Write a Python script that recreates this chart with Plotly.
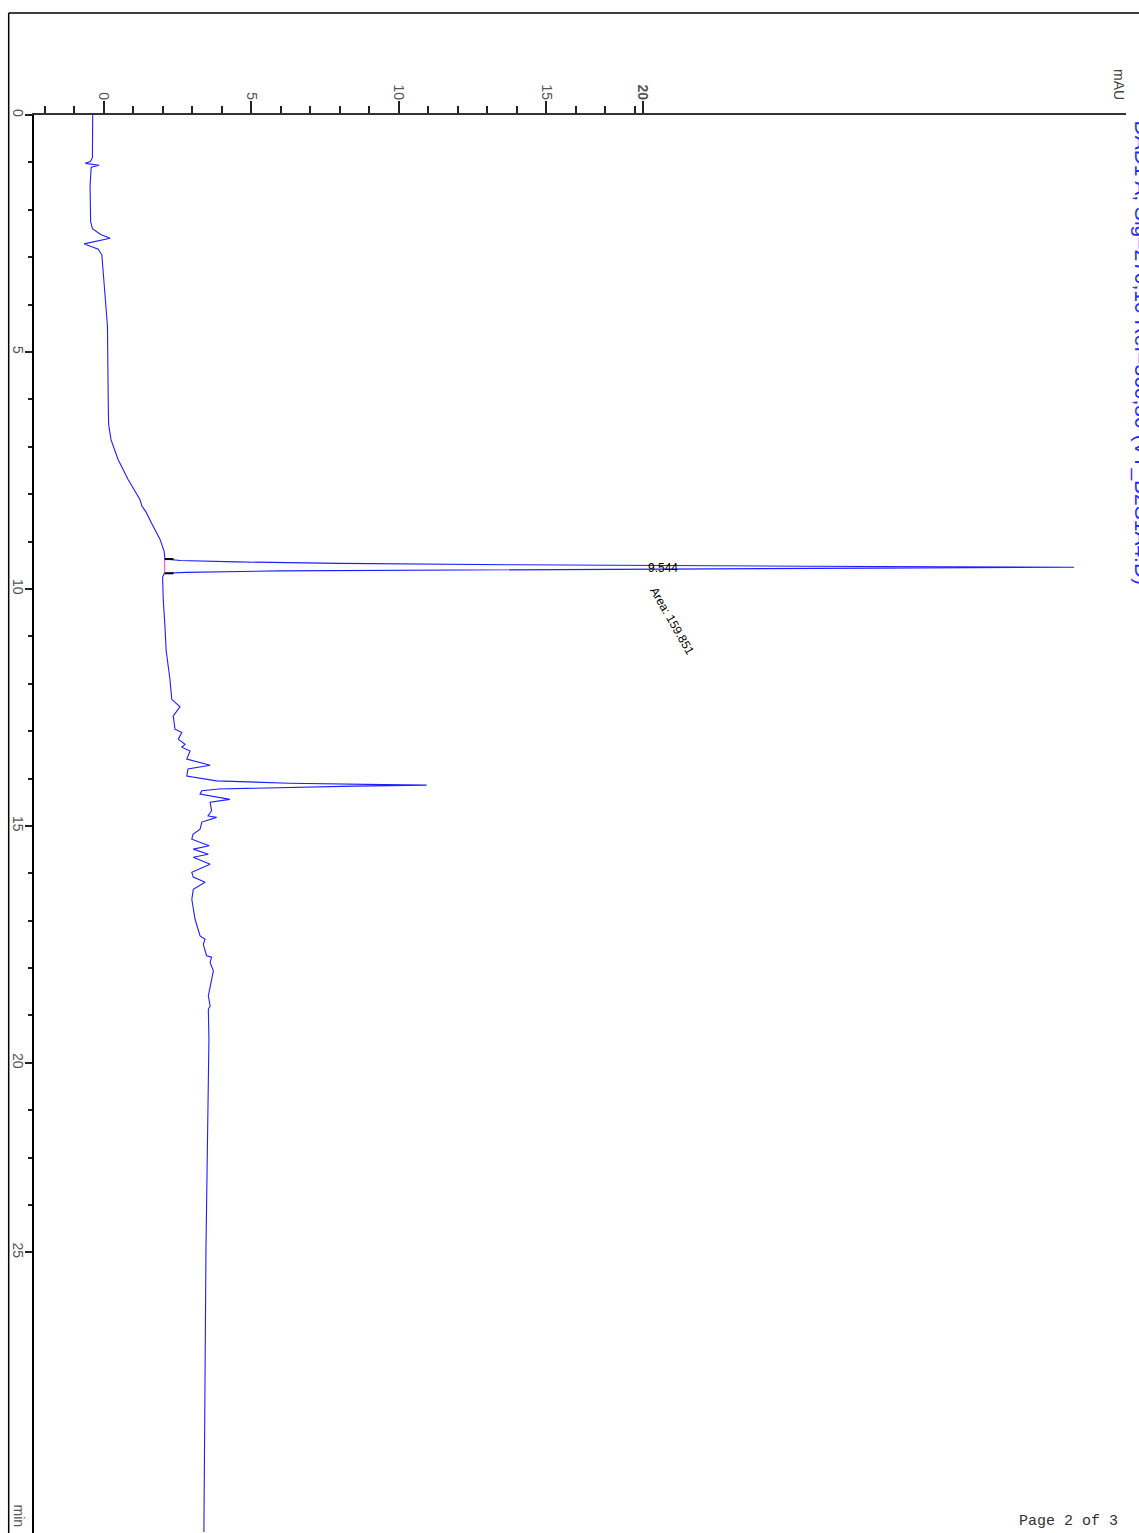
import plotly.graph_objects as go

# ---- data (retention time in min, absorbance in mAU) ----
time_min = [0.00, 0.90, 0.98, 1.02, 1.06, 1.10, 1.50, 2.00, 2.25, 2.40, 2.52, 2.60, 2.66, 2.72,
            2.78, 2.83, 2.95, 3.30, 4.45, 6.20, 6.53, 6.85, 7.27, 7.69, 7.94, 8.11, 8.25, 8.38,
            8.63, 8.95, 9.20, 9.37, 9.40, 9.43, 9.46, 9.49, 9.52, 9.544, 9.56, 9.59, 9.62, 9.65,
            9.67, 9.75, 10.20, 10.80, 11.30, 11.91, 12.33, 12.49, 12.68, 12.96, 13.03, 13.17,
            13.28, 13.34, 13.42, 13.59, 13.72, 13.80, 13.95, 14.05, 14.10, 14.13, 14.14, 14.16,
            14.19, 14.22, 14.26, 14.33, 14.44, 14.50, 14.68, 14.79, 14.82, 14.92, 15.07, 15.18,
            15.28, 15.42, 15.49, 15.60, 15.66, 15.81, 15.98, 16.08, 16.19, 16.34, 16.55, 16.97,
            17.32, 17.39, 17.50, 17.74, 17.77, 17.88, 18.06, 18.38, 18.59, 18.80, 18.87, 19.50,
            23.93, 29.90]
signal_mau = [-0.37, -0.38, -0.45, -0.62, -0.15, -0.42, -0.46, -0.45, -0.44, -0.38, -0.10, 0.22,
              -0.20, -0.66, -0.40, -0.18, -0.06, -0.01, 0.13, 0.16, 0.17, 0.25, 0.49, 0.83, 1.06,
              1.23, 1.30, 1.44, 1.64, 1.91, 2.05, 2.08, 2.6, 4.5, 8.0, 14.0, 24.0, 32.9, 26.0,
              15.0, 6.0, 2.8, 2.06, 2.00, 2.02, 2.08, 2.12, 2.25, 2.31, 2.59, 2.36, 2.42, 2.65,
              2.53, 2.76, 2.65, 2.93, 2.82, 3.61, 2.86, 2.82, 3.83, 6.3, 9.5, 10.95, 8.5, 5.5,
              3.9, 3.33, 3.27, 4.28, 3.61, 3.66, 3.54, 3.83, 3.33, 3.27, 3.03, 2.99, 3.58, 3.04,
              3.55, 3.04, 3.61, 2.99, 3.04, 3.44, 3.04, 2.99, 3.10, 3.27, 3.44, 3.38, 3.49, 3.66,
              3.61, 3.72, 3.61, 3.55, 3.61, 3.55, 3.57, 3.47, 3.40]

peak_rt = 9.544
peak_area = 159.851
peak_start = 9.37
peak_end = 9.67
baseline_mau = 2.07

# axis ticks
mau_tickvals = [0, 5, 10, 15, 18.27]
mau_ticktext = ["0", "5", "10", "15", "<b>20</b>"]
mau_minor = [-2, -1, 1, 2, 3, 4, 6, 7, 8, 9, 11, 12, 13, 14, 16, 17, 18]
time_tickvals = [0, 5, 10, 15, 20, 24]
time_ticktext = ["0", "5", "10", "15", "20", "25"]
time_minor = [1, 2, 3, 4, 6, 7, 8, 9, 11, 12, 13, 14, 16, 17, 18, 19, 21, 22, 23]

title_text = "DAD1 A, Sig=270,10 Ref=360,80 (VT_B2S1A4.D)"

# ---- layout geometry (page pixels) ----
W, H = 1139, 1533
L, R, T, B = 34, 1126, 115, 1533  # plot area


def px_x(p):
    return (p - L) / (R - L)


def px_y(p):
    return 1 - (p - T) / (B - T)


fig = go.Figure()
fig.add_trace(go.Scatter(x=signal_mau, y=time_min, mode="lines",
                         line=dict(color="rgb(30,30,255)", width=1.1),
                         hoverinfo="skip", showlegend=False))
# integration baseline
fig.add_trace(go.Scatter(x=[baseline_mau, baseline_mau], y=[peak_start, peak_end], mode="lines",
                         line=dict(color="rgb(255,60,200)", width=1),
                         hoverinfo="skip", showlegend=False))
# start / end markers
for tm in (peak_start, peak_end):
    fig.add_trace(go.Scatter(x=[baseline_mau, baseline_mau + 0.3], y=[tm, tm], mode="lines",
                             line=dict(color="black", width=2),
                             hoverinfo="skip", showlegend=False))

tickfont = dict(family="Liberation Sans, Arial", size=14, color="#555555")

fig.update_layout(
    width=W, height=H,
    margin=dict(l=L, r=W - R, t=T, b=H - B, pad=0),
    paper_bgcolor="white", plot_bgcolor="white",
    xaxis=dict(side="top", range=[-2.36, 34.66], showgrid=False, zeroline=False,
               showline=True, linecolor="#333333", linewidth=2,
               ticks="outside", ticklen=12, tickwidth=1.5, tickcolor="#222222",
               tickvals=mau_tickvals, ticktext=mau_ticktext, tickangle=90,
               tickfont=tickfont, ticklabelstandoff=-4,
               minor=dict(tickvals=mau_minor, ticks="outside", ticklen=7,
                          tickwidth=1.5, tickcolor="#222222")),
    yaxis=dict(range=[29.92, 0], showgrid=False, zeroline=False,
               showline=True, linecolor="black", linewidth=2,
               ticks="outside", ticklen=7, tickwidth=1.5, tickcolor="#222222",
               tickvals=time_tickvals, ticktext=time_ticktext, tickangle=90,
               tickfont=tickfont, ticklabelstandoff=-5,
               minor=dict(tickvals=time_minor, ticks="outside", ticklen=4,
                          tickwidth=1.5, tickcolor="#222222")),
)

ann = []
ann.append(dict(xref="paper", yref="paper", x=px_x(1119), y=px_y(84), text="mAU",
                textangle=90, showarrow=False, xanchor="center", yanchor="middle",
                font=dict(family="Liberation Sans, Arial", size=14, color="#444444")))
ann.append(dict(xref="paper", yref="paper", x=px_x(19), y=px_y(1502), text="min",
                textangle=90, showarrow=False, xanchor="center", yanchor="top",
                font=dict(family="Liberation Sans, Arial", size=14, color="#555555")))
ann.append(dict(xref="paper", yref="paper", x=px_x(1142), y=px_y(118), text=title_text,
                textangle=90, showarrow=False, xanchor="center", yanchor="top",
                font=dict(family="Liberation Sans, Arial", size=21, color="rgb(40,40,255)")))
ann.append(dict(xref="paper", yref="paper", x=px_x(1017), y=px_y(1521), text="Page 2 of 3",
                showarrow=False, xanchor="left", yanchor="middle",
                font=dict(family="Liberation Mono, monospace", size=15, color="#333333")))
ann.append(dict(xref="x", yref="y", x=18.4, y=peak_rt + 0.01, text=f"{peak_rt:.3f}",
                showarrow=False, xanchor="left", yanchor="middle",
                font=dict(family="Liberation Sans, Arial", size=12, color="black")))
ann.append(dict(xref="x", yref="y", x=19.27, y=10.68, text=f"Area: {peak_area:.3f}",
                textangle=60, showarrow=False, xanchor="center", yanchor="middle",
                font=dict(family="Liberation Sans, Arial", size=12, color="black")))
fig.update_layout(annotations=ann)

# page frame
fig.add_shape(type="line", xref="paper", yref="paper", x0=px_x(8.7), x1=px_x(1160),
              y0=px_y(13), y1=px_y(13), line=dict(color="black", width=1.5))
fig.add_shape(type="line", xref="paper", yref="paper", x0=px_x(8.7), x1=px_x(8.7),
              y0=px_y(13), y1=px_y(1560), line=dict(color="black", width=1.5))

fig.write_html("out.html", config={"displayModeBar": False},
               post_script="document.body.style.margin='0';document.body.style.overflow='hidden';")
